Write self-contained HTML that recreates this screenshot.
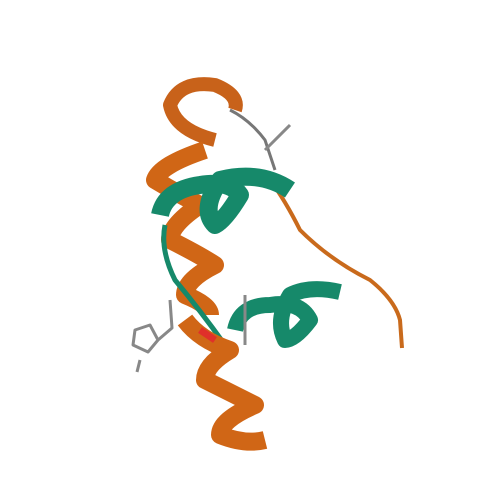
<!DOCTYPE html>
<html><head><style>html,body{margin:0;background:#fff;width:500px;height:500px;overflow:hidden}</style></head>
<body>
<svg width="500" height="500" viewBox="0 0 500 500">
<g fill="none" stroke-linecap="butt" stroke-linejoin="round">
 <path d="M270 180 Q285 200 300 230 Q330 260 370 280 Q395 300 400 320 L402 348" stroke="#c96a1c" stroke-width="4"/>
 <path d="M230 110 Q250 120 265 140 L275 170" stroke="#777" stroke-width="3"/>
 <path d="M215 140 Q175 130 170 105 Q180 80 215 85 Q240 95 235 110" stroke="#c8621a" stroke-width="14"/>
 <path d="M205 150 Q160 165 155 180 Q180 195 200 205 Q170 225 170 240 Q200 255 215 265 Q185 280 185 295 Q210 305 210 315" stroke="#d06616" stroke-width="18"/>
 <path d="M160 215 Q165 190 200 185 Q230 180 240 195 Q225 220 215 225 Q200 210 220 180 Q260 170 290 190" stroke="#16896a" stroke-width="18"/>
 <path d="M235 330 Q240 305 270 305 Q300 300 310 320 Q295 340 285 340 Q275 320 290 295 Q310 285 340 292" stroke="#16896a" stroke-width="16"/>
 <path d="M165 225 Q160 250 175 280 Q200 310 225 345" stroke="#16896a" stroke-width="5"/>
 <path d="M185 320 Q200 340 230 350 Q205 365 205 380 Q235 395 255 405 Q220 420 220 435 Q245 445 265 440" stroke="#d06616" stroke-width="18"/>
 <path d="M135 330 L150 325 L158 340 L148 352 L133 345 Z M158 340 L172 328 L170 300 M140 360 L137 372" stroke="#888" stroke-width="3"/>
 <path d="M245 295 L245 345 M265 150 L290 125" stroke="#888" stroke-width="3"/>
 <path d="M200 330 L215 340" stroke="#e0302a" stroke-width="7"/>
</g>
</svg>
</body></html>
